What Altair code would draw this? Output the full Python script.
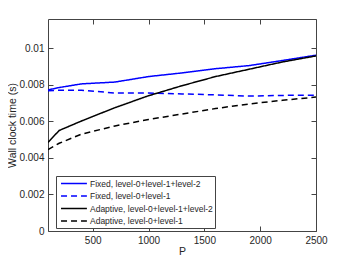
import altair as alt
import pandas as pd

P = [100, 200, 400, 700, 1000, 1300, 1600, 1900, 2200, 2500]
series_names = [
    "Fixed, level-0+level-1+level-2",
    "Fixed, level-0+level-1",
    "Adaptive, level-0+level-1+level-2",
    "Adaptive, level-0+level-1",
]
fixed_012 = [0.00772, 0.00785, 0.00805, 0.00815, 0.00845, 0.00865, 0.00888, 0.00905, 0.00933, 0.00962]
fixed_01 = [0.00768, 0.00770, 0.00770, 0.00755, 0.00755, 0.00750, 0.00745, 0.00738, 0.00742, 0.00743]
adapt_012 = [0.00485, 0.00550, 0.00602, 0.00675, 0.00740, 0.00795, 0.00845, 0.00885, 0.00925, 0.00958]
adapt_01 = [0.00445, 0.00480, 0.00530, 0.00575, 0.00610, 0.00640, 0.00670, 0.00695, 0.00715, 0.00733]

colors = ["#0000ff", "#0000ff", "#000000", "#000000"]
dashes = [[1, 0], [6, 4], [1, 0], [6, 4]]

rows = []
for name, vals in zip(series_names, [fixed_012, fixed_01, adapt_012, adapt_01]):
    for p, v in zip(P, vals):
        rows.append({"P": p, "t": v, "series": name})
df = pd.DataFrame(rows)

xdom = [100, 2500]
ydom = [0, 0.0116]
xt = [500, 1000, 1500, 2000, 2500]
yt = [0, 0.002, 0.004, 0.006, 0.008, 0.01]
axis_color = "#444444"
text_color = "#262626"

pad = "\u2003" * 3
legend_kw = dict(
    title=None, orient="none", legendX=8, legendY=157,
    symbolType="M-0.55,0H5.2", symbolSize=81, symbolStrokeWidth=1.5,
    labelFontSize=8.5, labelColor=text_color, labelFont="Liberation Sans",
    strokeColor=axis_color, fillColor="white",
    padding=2, rowPadding=2.5, labelOffset=21, labelLimit=400,
    labelExpr="datum.label + '" + pad + "'",
)

base = alt.Chart(df)

lines = base.mark_line(strokeWidth=1.5, clip=True).encode(
    x=alt.X("P:Q", scale=alt.Scale(domain=xdom, nice=False, zero=False),
            axis=alt.Axis(title="P", values=xt, format="d", offset=-5, tickSize=5, domain=False,
                          labelPadding=4, titlePadding=1, grid=False, labelFlush=False)),
    y=alt.Y("t:Q", scale=alt.Scale(domain=ydom, nice=False),
            axis=alt.Axis(title="Wall clock time (s)", values=yt, format="~g", offset=-5,
                          tickSize=5, domain=False, labelPadding=4, titlePadding=1, grid=False)),
    color=alt.Color("series:N", scale=alt.Scale(domain=series_names, range=colors),
                    legend=alt.Legend(**legend_kw)),
    strokeDash=alt.StrokeDash("series:N", scale=alt.Scale(domain=series_names, range=dashes),
                              legend=alt.Legend(**legend_kw)),
)

mirror = base.mark_line(opacity=0).encode(
    x=alt.X("P:Q", scale=alt.Scale(domain=xdom, nice=False, zero=False),
            axis=alt.Axis(orient="top", title=None, labels=False, values=xt, offset=-5,
                          tickSize=5, domain=False, grid=False)),
    y=alt.Y("t:Q", scale=alt.Scale(domain=ydom, nice=False),
            axis=alt.Axis(orient="right", title=None, labels=False, values=yt, offset=-5,
                          tickSize=5, domain=False, grid=False)),
)

chart = alt.layer(mirror, lines).resolve_scale(x="independent", y="independent").properties(
    width=268, height=212,
    autosize=alt.AutoSizeParams(type="none"),
    padding={"left": 40, "top": 11, "right": 20, "bottom": 28},
).configure_view(stroke=axis_color, strokeWidth=1).configure_axis(
    tickColor=axis_color, labelColor=text_color, titleColor=text_color,
    labelFont="Liberation Sans", titleFont="Liberation Sans", labelFontSize=10,
    titleFontSize=10.5, titleFontWeight="normal", tickWidth=1,
)

chart.save("out.html", embed_options={"renderer": "svg", "actions": False})
